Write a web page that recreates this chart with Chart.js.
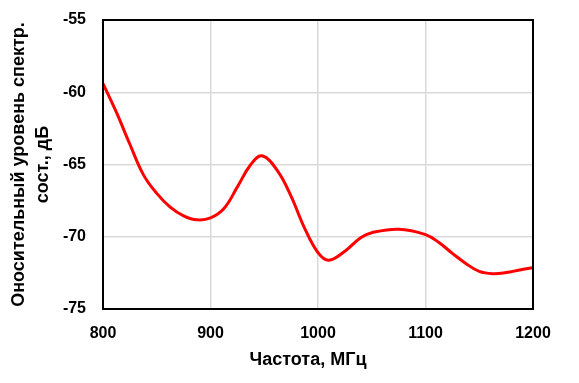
<!DOCTYPE html>
<html>
<head>
<meta charset="utf-8">
<script src="https://cdn.jsdelivr.net/npm/chart.js@4"></script>
<style>
  html, body { margin: 0; padding: 0; background: #fff; }
  #wrap { width: 579px; height: 383px; position: relative; }
</style>
</head>
<body>
<div id="wrap"><canvas id="c" width="579" height="383"></canvas></div>
<script>
const freqs = [800, 812.5, 825, 837.5, 850, 862.5, 875, 887.5, 900, 912.5, 925, 937.5, 948, 962.5, 975, 987.5, 1000, 1010, 1025, 1040, 1050, 1075, 1100, 1112.5, 1125, 1137.5, 1150, 1162.5, 1175, 1187.5, 1200];
const levels = [-59.4, -61.4, -63.6, -65.7, -67.0, -67.95, -68.55, -68.83, -68.7, -68.05, -66.55, -65.0, -64.4, -65.45, -67.2, -69.4, -71.1, -71.63, -71.0, -70.05, -69.72, -69.48, -69.85, -70.4, -71.15, -71.85, -72.4, -72.56, -72.48, -72.3, -72.14];
const xTicks = [800, 900, 1000, 1100, 1200];
const yTicks = [-75, -70, -65, -60, -55];
const xTitle = 'Частота, МГц';
const yTitle = ['Оносительный уровень спектр.', 'сост., дБ'];

const points = freqs.map((f, i) => ({ x: f, y: levels[i] }));
const FONT = 'Liberation Sans';

const frame = {
  id: 'frame',
  afterDatasetsDraw(chart) {
    const a = chart.chartArea, ctx = chart.ctx;
    ctx.save();
    ctx.strokeStyle = '#000';
    ctx.lineWidth = 2;
    ctx.strokeRect(a.left, a.top, a.right - a.left, a.bottom - a.top);
    ctx.restore();
  }
};

new Chart(document.getElementById('c'), {
  type: 'line',
  data: { datasets: [{ data: points, borderColor: '#ff0000', borderWidth: 3, pointRadius: 0, tension: 0.4, fill: false }] },
  options: {
    responsive: false,
    animation: false,
    layout: { padding: { left: 0, right: 46, top: 20, bottom: 0 } },
    plugins: { legend: { display: false }, tooltip: { enabled: false } },
    scales: {
      x: {
        type: 'linear', min: 800, max: 1200,
        afterBuildTicks(s) { s.ticks = xTicks.map(v => ({ value: v })); },
        afterFit(s) { s.height = 74; s.paddingLeft = 0; s.paddingRight = 0; },
        grid: { color: '#d9d9d9', lineWidth: 1.5, drawTicks: false },
        border: { display: false },
        ticks: { color: '#000', padding: 15, callback: v => String(v), font: { family: FONT, size: 16, weight: 'bold' } },
        title: { display: true, text: xTitle + '\u00a0\u00a0\u00a0\u00a0', color: '#000', padding: { top: 0, bottom: 12 }, font: { family: FONT, size: 18, weight: 'bold' } }
      },
      y: {
        type: 'linear', min: -75, max: -55,
        afterBuildTicks(s) { s.ticks = yTicks.map(v => ({ value: v })); },
        afterFit(s) { s.width = 103; s.paddingTop = 0; s.paddingBottom = 0; },
        grid: { color: '#d9d9d9', lineWidth: 1.5, drawTicks: false },
        border: { display: false },
        ticks: { color: '#000', padding: 17, callback: v => String(v), font: { family: FONT, size: 16, weight: 'bold' } },
        title: { display: true, text: yTitle, color: '#000', padding: { top: 7, bottom: 0 }, font: { family: FONT, size: 18, weight: 'bold', lineHeight: 1.35 } }
      }
    }
  },
  plugins: [frame]
});
</script>
</body>
</html>
